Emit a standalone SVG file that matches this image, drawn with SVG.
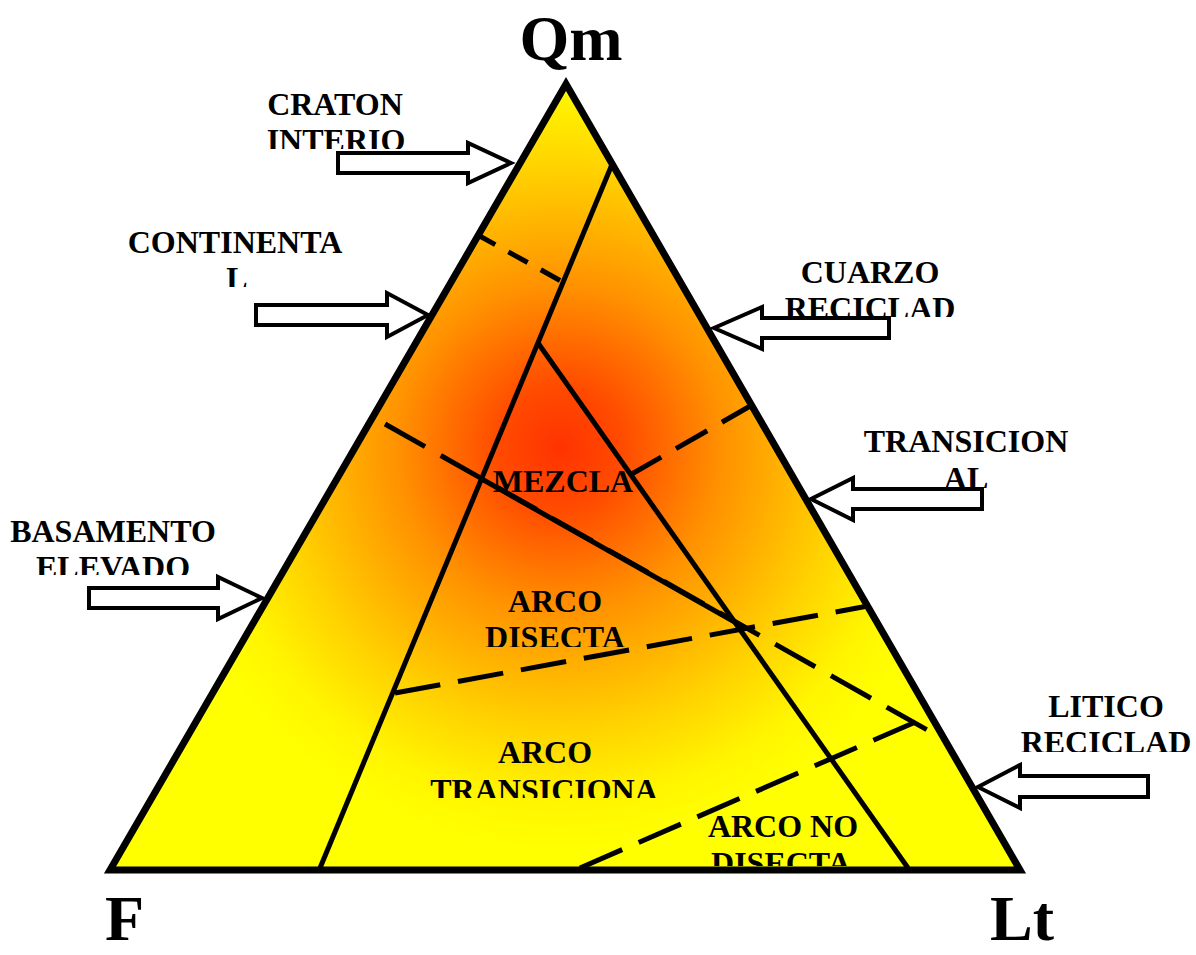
<svg xmlns="http://www.w3.org/2000/svg" width="1196" height="955" viewBox="0 0 1196 955">
<style>
.lbl{font-family:"Liberation Serif","Times New Roman",serif;font-weight:bold;font-size:32px;fill:#000;text-anchor:middle}
.big{font-family:"Liberation Serif","Times New Roman",serif;font-weight:bold;font-size:64px;fill:#000}
.solid{stroke:#000;stroke-width:5;fill:none}
.dash{stroke:#000;stroke-width:5;fill:none;stroke-dasharray:46 18}
.arrow{fill:#fff;stroke:#000;stroke-width:4;stroke-linejoin:miter}
</style>
<defs>
<radialGradient id="g" gradientUnits="userSpaceOnUse" cx="560" cy="448" r="400">
<stop offset="0" stop-color="#FF3300"/>
<stop offset="0.15" stop-color="#FF4A00"/>
<stop offset="0.4" stop-color="#FF9000"/>
<stop offset="0.7" stop-color="#FFD200"/>
<stop offset="0.88" stop-color="#FFF500"/>
<stop offset="1" stop-color="#FFFF00"/>
</radialGradient>
<clipPath id="c1"><rect x="0" y="0" width="1196" height="149"/></clipPath>
<clipPath id="c2"><rect x="0" y="0" width="1196" height="287"/></clipPath>
<clipPath id="c3"><rect x="0" y="0" width="1196" height="317"/></clipPath>
<clipPath id="c4"><rect x="0" y="0" width="1196" height="488"/></clipPath>
<clipPath id="c5"><rect x="0" y="0" width="1196" height="575"/></clipPath>
<clipPath id="c6"><rect x="0" y="0" width="1196" height="752"/></clipPath>
<clipPath id="c7"><rect x="0" y="0" width="1196" height="647"/></clipPath>
<clipPath id="c8"><rect x="0" y="0" width="1196" height="798"/></clipPath>
<clipPath id="c9"><rect x="0" y="0" width="1196" height="866"/></clipPath>
</defs>

<g id="triangle-fill">
<polygon points="566,84 110,870 1020,870" fill="url(#g)"/>
</g>

<g id="connectors">
<line class="solid" x1="613" y1="162" x2="320" y2="868"/>
<line class="solid" x1="538" y1="343" x2="908" y2="868"/>
<line class="dash" x1="385" y1="424" x2="945" y2="740"/>
<line class="solid" x1="480" y1="478" x2="740" y2="625"/>
<line class="dash" style="stroke-dasharray:22 15" x1="476" y1="234" x2="561" y2="281"/>
<line class="dash" style="stroke-dasharray:36 17" x1="630" y1="475" x2="752" y2="405"/>
<line class="dash" x1="395" y1="693" x2="868" y2="606"/>
<line class="dash" x1="580" y1="868" x2="920" y2="720"/>
</g>

<g id="region-labels">
<text class="lbl" x="563" y="492">MEZCLA</text>
<text class="lbl" x="555" y="612">ARCO</text>
<text class="lbl" x="555" y="648" clip-path="url(#c7)">DISECTA</text>
<text class="lbl" x="545" y="763">ARCO</text>
<text class="lbl" x="544" y="801" clip-path="url(#c8)">TRANSICIONA</text>
<text class="lbl" x="783" y="837">ARCO NO</text>
<text class="lbl" x="781" y="874" clip-path="url(#c9)">DISECTA</text>
</g>

<g id="triangle">
<polygon points="566,84 110,870 1020,870" fill="none" stroke="#000" stroke-width="7" stroke-linejoin="miter"/>
</g>

<g id="craton">
<text class="lbl" x="335" y="115">CRATON</text>
<text class="lbl" x="336" y="151" clip-path="url(#c1)">INTERIO</text>
<polygon class="arrow" points="338,153 468,153 468,143 511,163 468,183 468,173 338,173"/>
</g>

<g id="continental">
<text class="lbl" x="235" y="253">CONTINENTA</text>
<text class="lbl" x="237" y="289" clip-path="url(#c2)">L</text>
<polygon class="arrow" points="256,305 387,305 387,293 428,315 387,337 387,325 256,325"/>
</g>

<g id="cuarzo">
<text class="lbl" x="870" y="283">CUARZO</text>
<text class="lbl" x="870" y="319" clip-path="url(#c3)">RECICLAD</text>
<polygon class="arrow" points="889,318 762,318 762,307 714,328 762,349 762,338 889,338"/>
</g>

<g id="transicional">
<text class="lbl" x="966" y="452">TRANSICION</text>
<text class="lbl" x="966" y="489" clip-path="url(#c4)">AL</text>
<polygon class="arrow" points="982,489 853,489 853,478 811,499 853,520 853,509 982,509"/>
</g>

<g id="basamento">
<text class="lbl" x="113" y="542">BASAMENTO</text>
<text class="lbl" x="113" y="578" clip-path="url(#c5)">ELEVADO</text>
<polygon class="arrow" points="89,588 218,588 218,577 262,598 218,619 218,608 89,608"/>
</g>

<g id="litico">
<text class="lbl" x="1106" y="717">LITICO</text>
<text class="lbl" x="1106" y="753" clip-path="url(#c6)">RECICLAD</text>
<polygon class="arrow" points="1148,776 1020,776 1020,765 978,787 1020,808 1020,797 1148,797"/>
</g>

<g id="vertex-labels">
<text class="big" x="571" y="60" text-anchor="middle">Qm</text>
<text class="big" x="105" y="940">F</text>
<text class="big" x="990" y="940">Lt</text>
</g>
</svg>
